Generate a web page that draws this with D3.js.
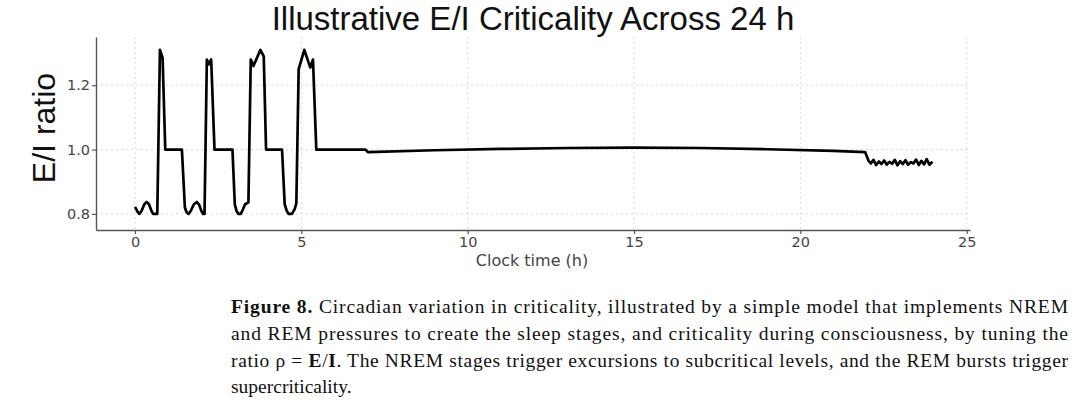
<!DOCTYPE html>
<html><head><meta charset="utf-8">
<script src="https://cdn.jsdelivr.net/npm/d3@7"></script>
<style>html,body{margin:0;padding:0;background:#fff;}svg{display:block;}</style>
</head><body>
<svg id="chart" width="1080" height="417"></svg>
<script>
// Data
const hours = [0, 0.07, 0.13, 0.2, 0.28, 0.35, 0.42, 0.5, 0.55, 0.67, 0.75, 0.83, 0.91, 1.41,
  1.5, 1.55, 1.61, 1.68, 1.77, 1.86, 1.93, 2.0, 2.05, 2.09, 2.16, 2.22, 2.29, 2.39, 2.93,
  3.0, 3.05, 3.11, 3.18, 3.25, 3.31, 3.41, 3.48, 3.56, 3.77, 3.87, 3.94, 4.42,
  4.5, 4.56, 4.62, 4.72, 4.8, 4.85, 4.92, 5.09, 5.27, 5.35, 5.45,
  6.93, 7.0, 9, 11, 13, 15, 17, 19, 21, 21.95,
  22.05, 22.12, 22.2, 22.28, 22.36, 22.44, 22.52, 22.6, 22.68, 22.76, 22.84, 22.92, 23.0,
  23.08, 23.16, 23.24, 23.32, 23.4, 23.48, 23.56, 23.64, 23.72, 23.8, 23.88, 23.97];
const eiRatio = [0.822, 0.808, 0.80, 0.81, 0.83, 0.837, 0.83, 0.808, 0.80, 0.80, 1.31, 1.285, 1.0, 1.0,
  0.82, 0.805, 0.80, 0.81, 0.83, 0.837, 0.828, 0.808, 0.80, 0.80, 1.28, 1.265, 1.28, 1.0, 1.0,
  0.83, 0.81, 0.80, 0.80, 0.815, 0.83, 0.836, 1.28, 1.26, 1.31, 1.29, 1.0, 1.0,
  0.83, 0.81, 0.80, 0.80, 0.815, 0.833, 1.25, 1.31, 1.255, 1.28, 1.0,
  1.0, 0.992, 0.998, 1.002, 1.005, 1.006, 1.005, 1.001, 0.996, 0.992,
  0.965, 0.957, 0.968, 0.952, 0.963, 0.955, 0.966, 0.953, 0.962, 0.956, 0.968, 0.951, 0.964,
  0.955, 0.967, 0.953, 0.961, 0.957, 0.969, 0.952, 0.965, 0.954, 0.970, 0.953, 0.962];
const xTicks = [0, 5, 10, 15, 20, 25];
const yTicks = [0.8, 1.0, 1.2];
const yTickLabels = ["0.8", "1.0", "1.2"];
const titleText = "Illustrative E/I Criticality Across 24 h";
const xLabel = "Clock time (h)";
const yLabel = "E/I ratio";

const svg = d3.select("#chart");
svg.append("rect").attr("width", 1080).attr("height", 417).attr("fill", "#fff");

const x = d3.scaleLinear().domain([-1.172, 25.1]).range([96, 970]);
const y = d3.scaleLinear().domain([0.75, 1.35]).range([230, 37]);

// grid
const grid = svg.append("g");
grid.selectAll("line.gx").data(xTicks).join("line")
  .attr("x1", d => x(d)).attr("x2", d => x(d)).attr("y1", 37).attr("y2", 230)
  .attr("stroke", "#d9d9d9").attr("stroke-width", 1).attr("stroke-dasharray", "2,3");
grid.selectAll("line.gy").data(yTicks).join("line")
  .attr("y1", d => y(d)).attr("y2", d => y(d)).attr("x1", 96).attr("x2", 970)
  .attr("stroke", "#d9d9d9").attr("stroke-width", 1).attr("stroke-dasharray", "2,3");

// axes
const xAxis = d3.axisBottom(x).tickValues(xTicks).tickFormat(d3.format("d")).tickSize(4).tickPadding(3).tickSizeOuter(0);
const yAxis = d3.axisLeft(y).tickValues(yTicks).tickFormat((d, i) => yTickLabels[i]).tickSize(4).tickPadding(2).tickSizeOuter(0);
const gx = svg.append("g").attr("transform", "translate(0,230)").call(xAxis);
const gy = svg.append("g").attr("transform", "translate(96,0)").call(yAxis);
[gx, gy].forEach(g => {
  g.select(".domain").attr("stroke", "#555").attr("stroke-width", 1.4);
  g.selectAll(".tick line").attr("stroke", "#555").attr("stroke-width", 1.2);
  g.selectAll(".tick text").attr("fill", "#444").style("font-family", "DejaVu Sans").style("font-size", "14.5px");
});

// line
const line = d3.line().x(d => x(d[0])).y(d => y(d[1]));
svg.append("path").datum(hours.map((h, i) => [h, eiRatio[i]]))
  .attr("d", line).attr("fill", "none").attr("stroke", "#000")
  .attr("stroke-width", 2.7).attr("stroke-linejoin", "round");

// title and labels
svg.append("text").attr("x", 533).attr("y", 30).attr("text-anchor", "middle")
  .style("font-family", "Liberation Sans").style("font-size", "33px").attr("fill", "#111").text(titleText);
svg.append("text").attr("x", 532).attr("y", 266).attr("text-anchor", "middle")
  .style("font-family", "DejaVu Sans").style("font-size", "16px").attr("fill", "#444").text(xLabel);
svg.append("text").attr("transform", "translate(55,128) rotate(-90)").attr("text-anchor", "middle")
  .style("font-family", "Liberation Sans").style("font-size", "32px").attr("fill", "#111").text(yLabel);

// caption
const cap = svg.append("g").style("font-family", "Liberation Serif").style("font-size", "19.5px").attr("fill", "#111");
const capX = 231, capW = 837;
const l1 = cap.append("text").attr("x", capX).attr("y", 313).attr("textLength", capW).attr("lengthAdjust", "spacing");
l1.append("tspan").attr("font-weight", "bold").text("Figure 8.");
l1.append("tspan").text(" Circadian variation in criticality, illustrated by a simple model that implements NREM");
cap.append("text").attr("x", capX).attr("y", 340).attr("textLength", capW).attr("lengthAdjust", "spacing")
  .text("and REM pressures to create the sleep stages, and criticality during consciousness, by tuning the");
const l3 = cap.append("text").attr("x", capX).attr("y", 367).attr("textLength", capW).attr("lengthAdjust", "spacing");
l3.append("tspan").text("ratio \u03C1 = ");
l3.append("tspan").attr("font-weight", "bold").text("E");
l3.append("tspan").text("/");
l3.append("tspan").attr("font-weight", "bold").text("I");
l3.append("tspan").text(". The NREM stages trigger excursions to subcritical levels, and the REM bursts trigger");
cap.append("text").attr("x", capX).attr("y", 393).text("supercriticality.");
</script>
</body></html>
